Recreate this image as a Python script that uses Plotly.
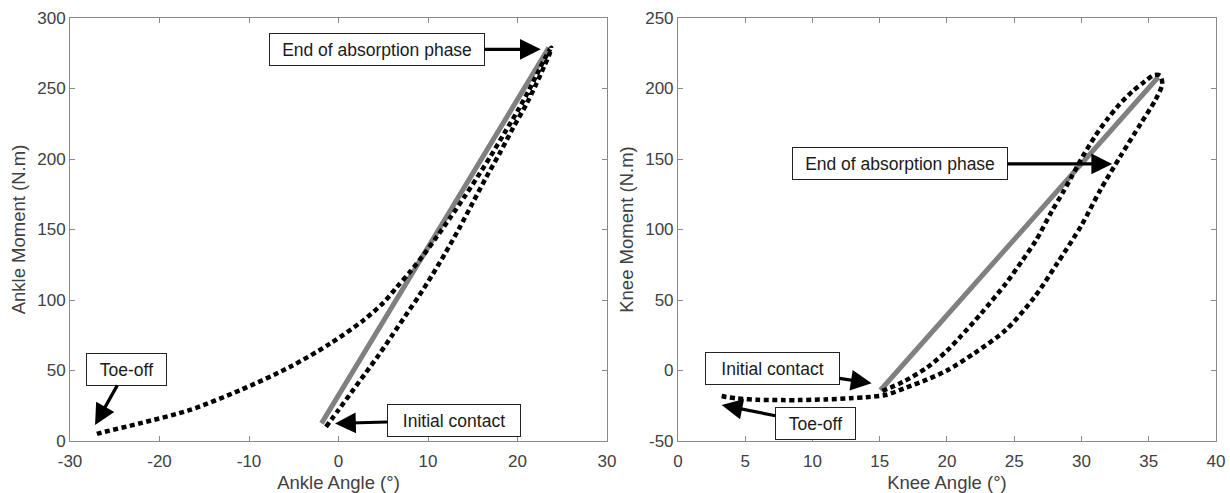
import plotly.graph_objects as go

# ---- Ankle: moment vs angle during stance ----
ankle_angle = [-1.4, 0.0, 1.5, 3.0, 4.5, 6.0, 7.5, 9.0, 10.5, 12.0, 13.5, 15.0, 16.5,
               18.0, 19.5, 21.0, 22.0, 23.0, 23.6, 23.75,
               23.2, 22.4, 21.3, 20.0, 18.5, 17.0, 15.5, 14.0, 12.5, 11.0, 9.5, 8.0,
               6.5, 5.0, 2.8, -0.9, -5.4, -11.0, -16.6, -22.2, -26.8, -27.2]
ankle_moment = [10, 22, 35, 48, 61, 75, 89, 103, 118, 134, 151, 169, 187,
                204, 222, 239, 252, 266, 275, 279,
                273, 263, 249, 234, 218, 202, 187, 172.5, 158.5, 145, 132, 120,
                109, 98, 85.7, 69.2, 52.6, 36, 22, 12.5, 5.4, 4.5]
ankle_fit_angle = [-1.9, 23.5]
ankle_fit_moment = [12.5, 279]

# ---- Knee: moment vs angle during stance ----
knee_angle = [15.2, 16.75, 18.5, 20.0, 21.0, 22.5, 24.4, 25.6, 26.6, 27.8, 28.6, 29.3,
              30.1, 31.0, 31.9, 32.8, 33.8, 34.7, 35.4, 35.85, 36.0,
              35.5, 34.4, 32.9, 31.4, 30.0, 28.2, 26.5, 24.4, 22.0, 20.0,
              18.5, 17.0, 15.5, 14.0, 12.8, 11.0, 9.0, 7.8, 6.0, 4.4, 3.6, 3.25]
knee_moment = [-14.5, -8, 2, 14, 24, 40, 62, 78, 92, 113, 126, 138,
               152, 166, 178, 188.5, 198, 205, 209.5, 209, 203,
               192, 175, 152, 128, 103, 76, 52, 29, 12, 0,
               -6.5, -12, -17.2, -19, -19.7, -20.5, -21, -21, -20.8, -19.8, -18.8, -18.1]
knee_fit_angle = [15.05, 35.7]
knee_fit_moment = [-14.0, 208.0]

# ---- tick values and labels (plain hyphen for negatives) ----
ankle_x_ticks = [-30, -20, -10, 0, 10, 20, 30]
ankle_y_ticks = [0, 50, 100, 150, 200, 250, 300]
knee_x_ticks = [0, 5, 10, 15, 20, 25, 30, 35, 40]
knee_y_ticks = [-50, 0, 50, 100, 150, 200, 250]


def labels(vals):
    return [str(v) for v in vals]


FONT = "Liberation Sans, Arial, Helvetica, sans-serif"
AXIS_GRAY = "#8a8a8a"
TEXT_GRAY = "#404040"
DOTS = "5px,3.5px"

fig = go.Figure()

fig.add_trace(go.Scatter(x=ankle_fit_angle, y=ankle_fit_moment, mode="lines",
                         line=dict(color="#808080", width=5), xaxis="x", yaxis="y"))
fig.add_trace(go.Scatter(x=ankle_angle, y=ankle_moment, mode="lines",
                         line=dict(color="black", width=4.5, dash=DOTS, shape="spline",
                                   smoothing=0.8), xaxis="x", yaxis="y"))
fig.add_trace(go.Scatter(x=knee_fit_angle, y=knee_fit_moment, mode="lines",
                         line=dict(color="#808080", width=5), xaxis="x2", yaxis="y2"))
fig.add_trace(go.Scatter(x=knee_angle, y=knee_moment, mode="lines",
                         line=dict(color="black", width=4.5, dash=DOTS, shape="spline",
                                   smoothing=0.8), xaxis="x2", yaxis="y2"))

axis_common = dict(showgrid=False, zeroline=False, showline=True, linecolor=AXIS_GRAY,
                   linewidth=1, mirror="ticks", ticks="inside", ticklen=5,
                   tickcolor=AXIS_GRAY, tickwidth=1, tickmode="array", automargin=False,
                   tickfont=dict(family=FONT, size=17, color=TEXT_GRAY))
title_font = dict(family=FONT, size=18.5, color=TEXT_GRAY)

fig.update_layout(
    width=1230, height=493, autosize=False,
    margin=dict(l=70, r=14, t=18, b=52),
    paper_bgcolor="white", plot_bgcolor="white",
    showlegend=False,
    xaxis=dict(domain=[0, 0.4686], range=[-30, 30],
               tickvals=ankle_x_ticks, ticktext=labels(ankle_x_ticks), ticklabelstandoff=5,
               title=dict(text="Ankle Angle (°)", font=title_font, standoff=10),
               anchor="y", **axis_common),
    yaxis=dict(domain=[0, 1], range=[0, 300],
               tickvals=ankle_y_ticks, ticktext=labels(ankle_y_ticks),
               title=dict(text="Ankle Moment (N.m)", font=title_font, standoff=6),
               anchor="x", **axis_common),
    xaxis2=dict(domain=[0.5305, 1], range=[0, 40],
                tickvals=knee_x_ticks, ticktext=labels(knee_x_ticks), ticklabelstandoff=5,
                title=dict(text="Knee Angle (°)", font=title_font, standoff=10),
                anchor="y2", **axis_common),
    yaxis2=dict(domain=[0, 1], range=[-50, 250],
                tickvals=knee_y_ticks, ticktext=labels(knee_y_ticks),
                title=dict(text="Knee Moment (N.m)", font=title_font, standoff=6),
                anchor="x2", **axis_common),
)

# callouts: (text, tip x, tip y, box-centre x, box-centre y, box width, axis suffix)
callouts = [
    ("End of absorption phase", 22.6, 277.8, 4.30, 277.8, 212, ""),
    ("Toe-off", -27.2, 11.3, -23.72, 50.8, 77, ""),
    ("Initial contact", -0.39, 12.5, 12.88, 14.7, 130, ""),
    ("End of absorption phase", 32.28, 146.5, 16.5, 146.5, 212, "2"),
    ("Initial contact", 14.4, -9.1, 7.03, 1.6, 131, "2"),
    ("Toe-off", 3.25, -24.5, 10.22, -37.7, 77, "2"),
]
for text, tx, ty, bx, by, w, ax_id in callouts:
    fig.add_annotation(
        text=text, x=tx, y=ty, ax=bx, ay=by,
        xref="x" + ax_id, yref="y" + ax_id, axref="x" + ax_id, ayref="y" + ax_id,
        showarrow=True, arrowhead=2, arrowsize=1.3, arrowwidth=3.2, arrowcolor="black",
        font=dict(family=FONT, size=17.5, color="#1a1a1a"),
        bgcolor="white", bordercolor="#222222", borderwidth=1, borderpad=1,
        width=w, height=29, align="center", valign="middle",
    )

fig.write_html("out.html")
